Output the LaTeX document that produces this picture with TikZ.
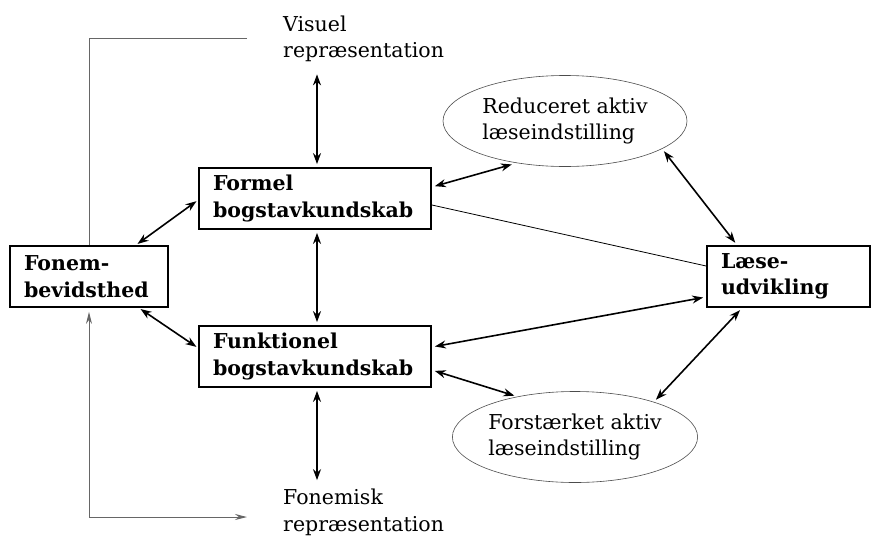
\documentclass[tikz,border=0pt]{standalone}
\usepackage{fontspec}
\setmainfont{DejaVu Serif}
\usetikzlibrary{arrows.meta,shapes.geometric,calc}
\hyphenpenalty=10000
\exhyphenpenalty=10000
\begin{document}
\begin{tikzpicture}[x=1pt,y=-1pt,
  txt/.style={font=\fontsize{20.5}{26.5}\selectfont},
  box/.style={draw, line width=1.8pt, align=left, inner xsep=14pt, inner ysep=0pt,
    minimum height=61pt, font=\fontsize{20.5}{26.5}\selectfont\bfseries},
  oval/.style={draw=black!70, line width=0.6pt, ellipse, align=left, inner sep=0pt,
    minimum width=244pt, minimum height=91pt, txt},
  lbl/.style={align=left, inner sep=0pt, anchor=west, txt},
  dbl/.style={line width=1.6pt, {Stealth[length=11pt,width=8pt]}-{Stealth[length=11pt,width=8pt]},
    shorten <=3pt, shorten >=3pt},
  thinline/.style={line width=1pt, draw=black!60},
  ]
\useasboundingbox (0,0) rectangle (872,538);

\node[box, text width=130pt] (fonem) at (89,276.5) {Fonem-\\bevidsthed};
\node[box, text width=204pt] (formel) at (315,198.5) {Formel\\bogstavkundskab};
\node[box, text width=204pt] (funk) at (315,356.5) {Funktionel\\bogstavkundskab};
\node[box, text width=135pt] (laese) at (788.5,276.5) {Læse-\\udvikling};

\node[oval] (red) at (565,121) {Reduceret aktiv\\læseindstilling};
\node[oval] (fors) at (575,437) {Forstærket aktiv\\læseindstilling};

\node[lbl] (vis) at (283,39) {Visuel\\repræsentation};
\node[lbl] (fonemisk) at (283,512.5) {Fonemisk\\repræsentation};

% vertical arrows
\draw[dbl, shorten >=12pt] ([xshift=2pt]formel.north) -- ([xshift=2pt]formel.north |- vis.south);
\draw[dbl] ([xshift=2pt]formel.south) -- ([xshift=2pt]funk.north);
\draw[dbl, shorten >=9pt] ([xshift=2pt]funk.south) -- ([xshift=2pt]funk.south |- fonemisk.north);

% fonem arrows
\draw[dbl, shorten <=2pt, shorten >=2pt] ([xshift=-33pt]fonem.north east) -- ([yshift=-1.5pt]formel.west);
\draw[dbl, shorten <=2pt, shorten >=2pt] ([xshift=-30pt]fonem.south east) -- ([yshift=8.5pt]funk.west);

% ellipse arrows
\draw[dbl, shorten >=5pt] ([yshift=11.5pt]formel.east) -- (red.221);
\draw[dbl] (red.344) -- ([xshift=31pt]laese.north west);
\draw[dbl] ([yshift=-13.5pt]funk.east) -- (fors.145);
\draw[dbl] ([xshift=36pt]laese.south west) -- (fors.24);

% to Laese
\draw[line width=0.8pt] ([yshift=-6.5pt]formel.east) -- ([yshift=10.5pt]laese.west);
\draw[dbl] ([yshift=9.5pt]funk.east) -- ([yshift=-20.5pt]laese.west);

% left lines
\coordinate (tl) at (247,38);
\coordinate (bl) at (247,517);
\draw[thinline] (tl) -| (fonem.north);
\draw[thinline, {Stealth[length=12pt,width=6pt]}-{Stealth[length=12pt,width=6pt]}, shorten <=4pt]
  (fonem.south) |- (bl);
\end{tikzpicture}
\end{document}
